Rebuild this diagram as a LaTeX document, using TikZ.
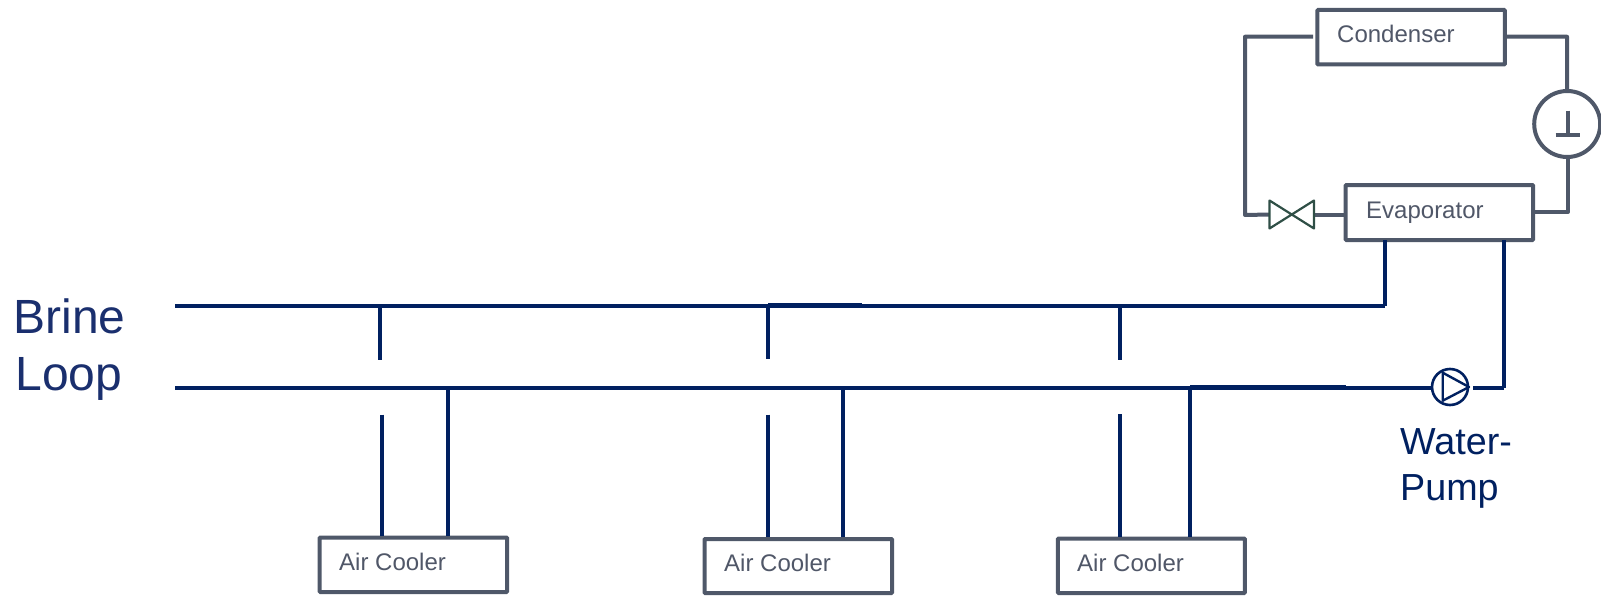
\documentclass[tikz,border=0pt]{standalone}
\usepackage{fontspec}
\setmainfont{Liberation Sans}
\definecolor{gline}{HTML}{4F5869}
\definecolor{gtext}{HTML}{505768}
\definecolor{navy}{HTML}{002060}
\definecolor{brine}{HTML}{1A2F6E}
\definecolor{valvec}{HTML}{2F4F46}
\tikzset{
  box/.style={draw=gline,line width=4pt,fill=white,rounded corners=0.8pt,inner sep=0pt,outer sep=0pt,anchor=north west},
  boxtext/.style={anchor=base west,inner sep=0pt,text=gtext,font=\fontsize{24pt}{26pt}\selectfont},
  gpipe/.style={draw=gline,line width=4pt,line join=round},
  npipe/.style={draw=navy,line width=4pt,line join=round},
  bigtext/.style={anchor=base west,inner sep=0pt,text=brine,font=\fontsize{48pt}{50pt}\selectfont},
  pumptext/.style={anchor=base west,inner sep=0pt,text=navy,font=\fontsize{37.7pt}{40pt}\selectfont},
}
\begin{document}
\begin{tikzpicture}[x=1pt,y=-1pt]
\useasboundingbox (0,0) rectangle (1601,599);
% coordinates
\coordinate (tl) at (175,306);
\coordinate (bl) at (175,388);
\coordinate (tr) at (1384.5,306);
\coordinate (br) at (1504,388);
\coordinate (p1a) at (380,306);   \coordinate (p1b) at (380,359.5);
\coordinate (p2a) at (768,306);   \coordinate (p2b) at (768,358.5);
\coordinate (p3a) at (1120.3,306);\coordinate (p3b) at (1120.3,360);
\coordinate (q1a) at (382,414.5); \coordinate (q2a) at (768,414.5); \coordinate (q3a) at (1120.3,414);
\coordinate (r1) at (447.5,388); \coordinate (r2) at (843.4,388); \coordinate (r3) at (1190,388);
% brine lines
\draw[npipe] (tl) -- (tr);
\draw[npipe] (bl) -- (1431,388);
% boxes
\node[box,minimum width=187.5pt,minimum height=54.5pt] (cond) at (1317.3,10) {};
\node[box,minimum width=187.5pt,minimum height=55pt] (evap) at (1345.7,185) {};
\node[box,minimum width=187.5pt,minimum height=54.5pt] (ac1) at (319.6,537.5) {};
\node[box,minimum width=187.5pt,minimum height=54pt] (ac2) at (704.5,539) {};
\node[box,minimum width=187pt,minimum height=54.5pt] (ac3) at (1057.8,538.5) {};
% box labels
\node[boxtext] (tcond) at (1337,42.7) {Condenser};
\node[boxtext] (tevap) at (1366,218) {Evaporator};
\node[boxtext] (tac1) at (339,570.7) {Air Cooler};
\node[boxtext] (tac2) at (724,571) {Air Cooler};
\node[boxtext] (tac3) at (1077,571) {Air Cooler};
\node[bigtext] (brinet) at (13.3,333) {Brine};
\node[bigtext] (loopt) at (15.3,390) {Loop};
\node[pumptext] (watert) at (1400,454.5) {Water-};
\node[pumptext] (pumpt) at (1400,500) {Pump};
% compressor
\node[circle,draw=gline,line width=4pt,fill=white,minimum size=66pt,inner sep=0pt,outer sep=0pt] (comp) at (1567.2,124) {};
\coordinate (ta) at (1568,110.7); \coordinate (tb) at (1568,135);
\coordinate (tc) at (1555.7,135); \coordinate (td) at (1580.3,135);
\draw[gline,line width=3.6pt] (ta) -- (tb) (tc) -- (td);
% valve
\coordinate (v) at (1291.5,214.5);
\coordinate (vl) at (1269.5,214.5); \coordinate (vr) at (1314,214.5);
\coordinate (cl) at (1313,36.7);
\coordinate (cr) at (1505,36.7);
\coordinate (el) at (1345.7,214.5);
\coordinate (er) at (1533,212);
% refrigerant pipes
\draw[gpipe] (cl) -- (1245,36.7) -- (1245,215) -- (vl);
\draw[gpipe] (vr) -- (el);
\draw[gpipe] (cr) -- (1567,36.7) -- (comp.north);
\draw[gpipe] (1568,157) -- (1568,212) -- (er);
\draw[valvec,line width=2.2pt,line join=round] (1269.5,200.5) -- (1314,228.5) -- (1314,200.5) -- (1269.5,228.5) -- cycle;
% evaporator brine connections
\draw[npipe] (tr) -- (1384.5,240);
\draw[npipe] (br) -- (1504,240);
\draw[npipe] (br) -- (1472.7,388);
% branches
\draw[npipe] (p1a) -- (p1b);
\draw[npipe] (p2a) -- (p2b);
\draw[npipe] (p3a) -- (p3b);
\draw[npipe] (q1a) -- (382,535.5);
\draw[npipe] (q2a) -- (768,537);
\draw[npipe] (q3a) -- (1120.3,536.5);
\draw[npipe] (r1) -- (447.5,535.5);
\draw[npipe] (r2) -- (843.4,537);
\draw[npipe] (r3) -- (1190,536.5);
% overlay segments
\draw[navy,line width=3.4pt] (768,305) -- (862,305);
\draw[navy,line width=3.4pt] (1120.3,305.4) -- (1215,305.4);
\draw[navy,line width=3.4pt] (843.4,387.3) -- (1105,387.3);
\draw[navy,line width=3.4pt] (1190,386.8) -- (1346,386.8);
% pump
\node[circle,draw=navy,line width=2.6pt,fill=white,minimum size=36pt,inner sep=0pt,outer sep=0pt] (pump) at (1450,387) {};
\coordinate (pa) at (1442.7,372.7); \coordinate (pb) at (1469,387); \coordinate (pc) at (1442.7,400.7);
\draw[navy,line width=2.4pt,line join=round] (pa) -- (pb) -- (pc) -- cycle;
\end{tikzpicture}
\end{document}
